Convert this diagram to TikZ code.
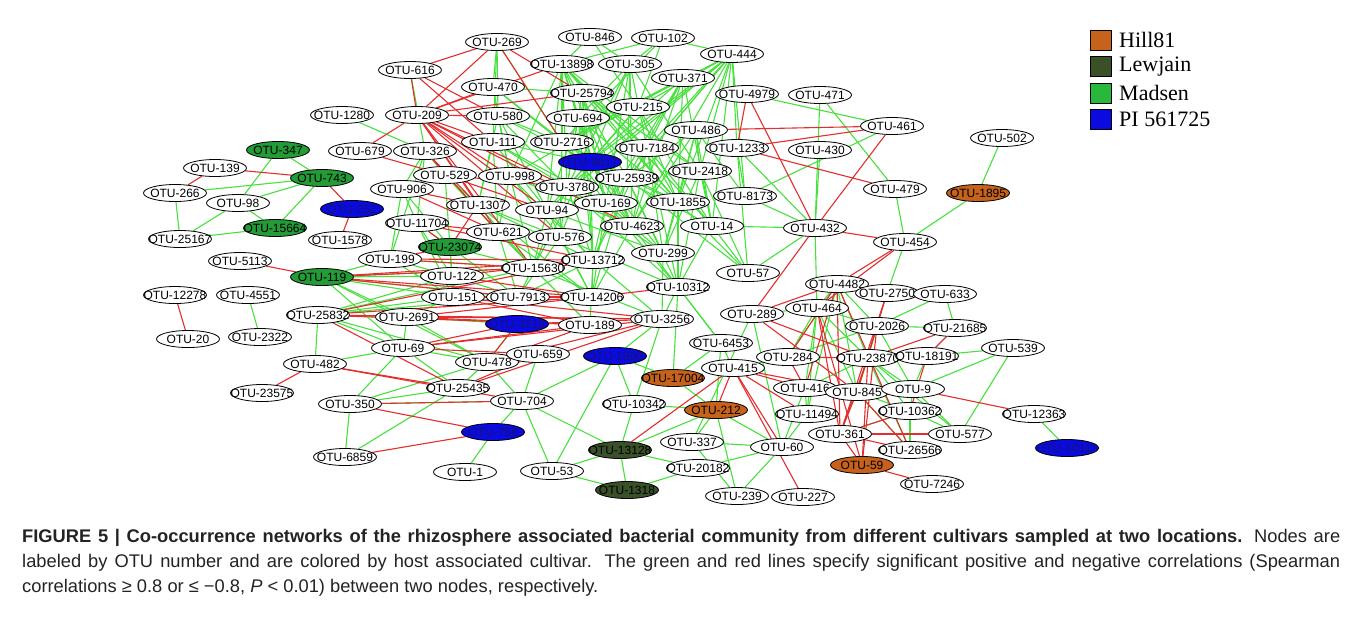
\documentclass[tikz,border=0pt]{standalone}
\usepackage{fontspec}
\setmainfont{Liberation Sans}
\newfontfamily\legfont{Liberation Serif}
\usetikzlibrary{shapes.geometric,backgrounds}
\definecolor{gl}{RGB}{70,225,60}
\definecolor{rl}{RGB}{228,45,45}
\definecolor{cmad}{RGB}{35,155,55}
\definecolor{cmadleg}{RGB}{40,185,60}
\definecolor{chill}{RGB}{198,98,28}
\definecolor{clew}{RGB}{58,80,40}
\definecolor{cpi}{RGB}{10,10,225}
\definecolor{captxt}{RGB}{35,35,35}
\begin{document}
\begin{tikzpicture}[x=1pt,y=-1pt,
  otu/.style={ellipse,draw=black,line width=0.8pt,fill=white,minimum width=63pt,minimum height=17pt,inner sep=0pt,font=\fontsize{12}{12}\selectfont},
  madsen/.style={otu,fill=cmad},
  hill/.style={otu,fill=chill},
  lew/.style={otu,fill=clew},
  pinode/.style={otu,fill=cpi,text={rgb,255:red,20;green,20;blue,110}},
  gedge/.style={draw=gl,line width=1.1pt},
  redge/.style={draw=rl,line width=1.1pt},
  legbox/.style={draw=black,line width=0.8pt,minimum width=21pt,minimum height=20pt,inner sep=0pt},
  legtxt/.style={anchor=west,font=\legfont\fontsize{22}{22}\selectfont,inner sep=0pt},
  capline/.style={anchor=base west,inner sep=0pt,text=captxt,font=\fontsize{18.3}{20}\selectfont}]
\useasboundingbox (0,0) rectangle (1357,625);
% plain nodes
\foreach \n/\x/\y in {269/497/42, 846/590/37, 102/663/38, 616/410/70, 13898/562/64, 305/630/64, 444/732/54, 470/493/87, 371/683/78, 25794/582/93, 4979/747/94, 471/820/95, 1280/342/115, 209/417/115, 580/498/116, 694/578/118, 215/638/107, 486/696/130, 461/892/126, 502/1002/138, 679/360/151, 326/425/151, 111/493/142, 2716/562/142, 7184/647/148, 1233/737/148, 430/820/150, 139/215/168, 266/175/193, 98/238/203, 529/445/175, 998/510/176, 3780/567/187, 25939/627/178, 2418/700/171, 906/402/189, 8173/745/196, 479/895/189, 1307/478/205, 94/547/210, 169/606/203, 1855/678/202, 25167/180/239, 1578/340/240, 11704/417/223, 621/498/232, 576/560/237, 4623/632/226, 14/712/226, 432/815/228, 454/905/242, 199/390/259, 5113/240/261, 13712/593/260, 299/663/253, 57/748/273, 122/452/276, 15630/533/268, 12278/175/295, 4551/248/295, 151/453/297, 7913/518/297, 14206/592/297, 10312/678/287, 4482/837/284, 2750/887/293, 633/945/294, 25832/318/315, 2691/407/317, 189/590/325, 3256/662/319, 289/752/314, 464/817/308, 2026/877/326, 21685/955/328, 20/188/339, 2322/260/337, 69/403/348, 478/487/362, 659/538/354, 6453/721/343, 284/788/357, 23870/868/358, 18191/927/356, 539/1013/348, 482/315/364, 415/733/368, 416/805/388, 845/857/392, 9/913/389, 23575/262/393, 25435/458/388, 350/350/404, 704/522/401, 10342/634/404, 11494/807/414, 10362/910/411, 12363/1034/414, 361/840/434, 577/960/434, 337/692/442, 60/782/447, 26566/910/450, 6859/345/457, 1/465/472, 53/552/471, 20182/698/468, 7246/932/484, 239/737/496, 227/803/497}
  \node[otu] (n\n) at (\x,\y) {\makebox[0pt]{OTU-\n}};
\foreach \n/\x/\y in {347/278/150, 743/322/178, 15664/275/228, 23074/450/247, 119/322/277}
  \node[madsen] (n\n) at (\x,\y) {\makebox[0pt]{OTU-\n}};
\foreach \n/\x/\y in {1895/978/193, 17004/673/378, 212/716/410, 59/862/465}
  \node[hill] (n\n) at (\x,\y) {\makebox[0pt]{OTU-\n}};
\foreach \n/\x/\y in {13128/620/450, 1318/627/490}
  \node[lew] (n\n) at (\x,\y) {\makebox[0pt]{OTU-\n}};
\foreach \n/\x/\y/\t in {b1/590/162/9617, b2/352/209/252, b3/517/324/3219, b4/615/356/1990, b5/493/432/758, b6/1067/448/10113}
  \node[pinode] (n\n) at (\x,\y) {\makebox[0pt]{OTU-\t}};
% edges
\begin{pgfonlayer}{background}
\foreach \a/\bs in {444/{7184,2418,1855,14,169,2716,b1,25939,3780,1233,8173,215,4623,94},
  13898/{b1,7184,2418,25939,3780,169,1855,694,2716,4623,14,94,998},
  305/{694,b1,7184,25939,2418,169,4623,3780},
  371/{b1,7184,2716,25939,169,1855,4623,998,14},
  846/{305,13898,215}, 102/{13898,215,444,305,2716},
  25794/{b1,7184,2418,169,1855,3780,4623,13712},
  215/{b1,2716,3780,1855,14,94}, 694/{3780,94,169,4623,1855,13712},
  580/{2716,b1,998,3780,94,1307}, 470/{2716,b1,998,580,25794},
  269/{470,580,111,2716}, 111/{b1,3780,94,169,1307,621},
  2716/{25939,169,1855,4623,576}, b1/{4623,14,1855,13712,576,15630,299},
  7184/{4623,13712,299,10312,1855,14}, 486/{14,4623,2418,25939,1855,299,8173},
  2418/{14,299,10312,57}, 25939/{13712,299,10312,14206,57},
  3780/{13712,299,10312,576,15630}, 998/{13712,15630,576,621,4623},
  529/{621,1307,15630,23074}, 1307/{13712,15630,14206,576},
  94/{13712,15630,14206,299}, 169/{13712,14206,10312,299},
  1855/{10312,299,57}, 4623/{10312,14206}, 14/{10312,57,432},
  621/{14206,15630,7913}, 576/{14206,10312,7913},
  13712/{3256,14206,7913,189}, 15630/{3256,189,7913}, 299/{3256}, 10312/{3256,6453},
  1233/{8173,432,57}, 8173/{432}, 906/{23074,199,11704,529,326},
  326/{529,11704,199}, 616/{326}, 1280/{326}, 11704/{122,151,23074},
  199/{122,151,15630}, 23074/{122,151,15630,7913}, 122/{7913,151}, 151/{7913,14206},
  119/{122,151,15630,7913,2691,478,69,199},
  25832/{122,151,7913,15630,2691,69,478,482},
  2691/{69,478,151,b3}, 69/{478,25435,482,350}, 478/{704,25435,659,b3},
  659/{704}, 350/{25435,704,6859,478}, 6859/{25435}, 704/{53,13128,b4},
  b5/{1,704}, 10342/{212,13128,b4,3256}, 17004/{212,10312}, b4/{17004,3256},
  6453/{17004,212,10312,415}, 53/{13128,1318,b4}, 13128/{1318,20182,212},
  1318/{20182}, 20182/{60}, 212/{337,60,239}, 337/{239,60}, 60/{239,11494,416},
  415/{284}, 416/{11494,23870}, 11494/{464,4482}, 289/{464,60,337},
  284/{464,4482,2026}, 464/{4482,2026,23870,845,416}, 4482/{2750,2026,23870,845},
  2750/{2026,454}, 2026/{633,21685,23870,845,9}, 633/{21685},
  23870/{18191,9,10362,577,26566,845}, 18191/{539,9}, 845/{9,10362,26566},
  9/{539,10362,577}, 10362/{577,26566}, 539/{577}, 361/{10362}, 12363/{b6},
  1895/{502,454}, 479/{454,471}, 471/{432}, 4979/{461}, 461/{8173},
  432/{464,57}, 430/{432}, 266/{743,25167}, 347/{743,98},
  98/{743,15664,25167}, 15664/{25167,743}, 4551/{2322}}
  {\foreach \b in \bs {\draw[gedge] (n\a) -- (n\b);}}
\foreach \a/\bs in {139/{743,266}, 743/{b2}, b2/{1578}, 5113/{119}, 12278/{20},
  482/{23575,25435,704}, 269/{616,209,25794,2716}, 616/{580,209,111}, 679/{209,529},
  209/{998,3780,94,1307,621,111,576,15630,470,25794,13898,4623,580},
  326/{1307,621}, 529/{3780,94}, 906/{1307,621}, 1307/{23074},
  11704/{23074,621,13712}, 23074/{199}, 119/{15630,13712,14206,7913},
  25832/{14206,13712,189,3256,25435}, 199/{13712,15630}, 122/{14206,13712},
  151/{189,14206,3256}, 2691/{189,3256,14206}, 69/{659,189,3256,b3},
  478/{3256,b3,189}, 25435/{3256,659}, 350/{704,b5}, 6859/{b5}, 10312/{14206},
  4979/{1233,432}, 1233/{461,479}, 486/{461}, 461/{432}, 432/{454,289},
  454/{4482,464}, 415/{212,60,227,13128,416,11494,845}, 289/{4482,845,23870},
  284/{416,23870}, 4482/{416,284,26566,361}, 464/{361,59}, 2750/{845,361},
  2026/{845,59}, 21685/{18191,23870}, 23870/{361,59}, 18191/{10362},
  845/{361,26566}, 9/{12363,845}, 361/{577,26566}, 59/{7246,361}, 10362/{361},
  b3/{3256}}
  {\foreach \b in \bs {\draw[redge] (n\a) -- (n\b);}}
\end{pgfonlayer}
% legend
\node[legbox,fill=chill] (lg1) at (1100.5,40) {};
\node[legbox,fill=clew] (lg2) at (1100.5,66.5) {};
\node[legbox,fill=cmadleg] (lg3) at (1100.5,93) {};
\node[legbox,fill=cpi] (lg4) at (1100.5,119.5) {};
\node[legtxt] (lt1) at (1119,40) {Hill81};
\node[legtxt] (lt2) at (1119,66.5) {Lewjain};
\node[legtxt] (lt3) at (1119,93) {Madsen};
\node[legtxt] (lt4) at (1119,119.5) {PI 561725};
% caption
\node[capline] (cap1) at (22,542) {\makebox[1318pt][s]{\textbf{FIGURE 5 | Co-occurrence networks of the rhizosphere associated bacterial community from different cultivars sampled at two locations.} Nodes are}};
\node[capline] (cap2) at (22,567) {\makebox[1318pt][s]{labeled by OTU number and are colored by host associated cultivar. The green and red lines specify significant positive and negative correlations (Spearman}};
\node[capline] (cap3) at (22,592) {correlations ≥ 0.8 or ≤ −0.8, \textit{P} < 0.01) between two nodes, respectively.};
\end{tikzpicture}
\end{document}
